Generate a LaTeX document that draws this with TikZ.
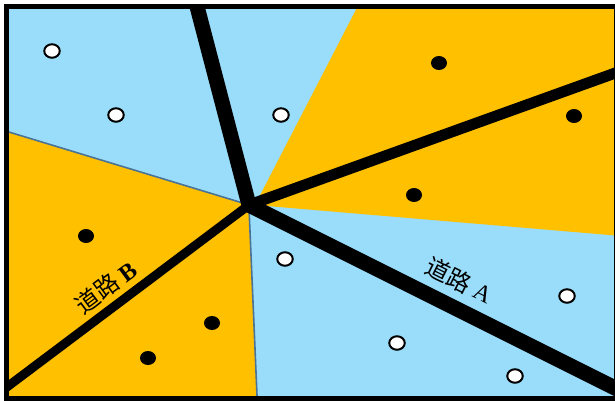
\documentclass[tikz,border=0pt]{standalone}
\usepackage{fontspec}
\setmainfont{Liberation Serif}
\newfontfamily\cjk{Noto Sans CJK SC}
\usetikzlibrary{shapes.geometric}
\definecolor{skyb}{RGB}{153,221,251}
\definecolor{amber}{RGB}{255,192,0}
\definecolor{edgeb}{RGB}{75,115,150}
\tikzset{
  road/.style={black, line cap=round, line join=round},
  edgeline/.style={edgeb, line width=1.6pt},
  wdot/.style={ellipse, draw=black, line width=2pt, fill=white, minimum width=15.5pt, minimum height=13.5pt, inner sep=0pt},
  bdot/.style={ellipse, fill=black, minimum width=16pt, minimum height=14pt, inner sep=0pt},
  lbl/.style={inner sep=1pt, font=\fontsize{24}{28}\selectfont},
  framebox/.style={draw=black, line width=5pt}
}
\begin{document}
\begin{tikzpicture}[x=1pt,y=-1pt]
\useasboundingbox (0,0) rectangle (615,400);
\coordinate (J) at (249,205);
\coordinate (Ttop) at (194,-5);
\coordinate (Aend) at (625,393);
\coordinate (Uend) at (625,69.5);
\coordinate (Bend) at (-5,396);
\begin{scope}
  \clip (6.5,6.5) rectangle (616.5,398.5);
  \fill[skyb] (0,0) rectangle (620,400);
  \fill[amber] (361,0) -- (620,0) -- (620,235.9) -- (255,205) -- cycle;
  \fill[amber] (0,129.3) -- (246,204) -- (249,208) -- (257.2,400) -- (0,400) -- cycle;
  \draw[edgeline] (0,129.3) -- (246,204);
  \draw[edgeline] (249,208) -- (257.2,400);
  \draw[road, line width=15pt] (Ttop) -- (J);
  \draw[road, line width=15pt] (J) -- (Aend);
  \draw[road, line width=11pt] (J) -- (Uend);
  \draw[road, line width=9pt] (J) -- (Bend);
\end{scope}
\draw[framebox] (6.5,6.5) rectangle (616.5,398.5);
% white dots
\node[wdot] (w1) at (52,51) {};
\node[wdot] (w2) at (116,115) {};
\node[wdot] (w3) at (281,115) {};
\node[wdot] (w4) at (285,259) {};
\node[wdot] (w5) at (567,296) {};
\node[wdot] (w6) at (397,343) {};
\node[wdot] (w7) at (515,376) {};
% black dots
\node[bdot] (b1) at (439,63) {};
\node[bdot] (b2) at (574,116) {};
\node[bdot] (b3) at (414,195) {};
\node[bdot] (b4) at (86,236) {};
\node[bdot] (b5) at (212,323) {};
\node[bdot] (b6) at (148,358) {};
% labels
\node[lbl, rotate=36.7] (labB) at (106,287) {{\cjk 道路} \textbf{B}};
\node[lbl, rotate=-26.6] (labA) at (459,280) {{\cjk 道路} A};
\end{tikzpicture}
\end{document}
